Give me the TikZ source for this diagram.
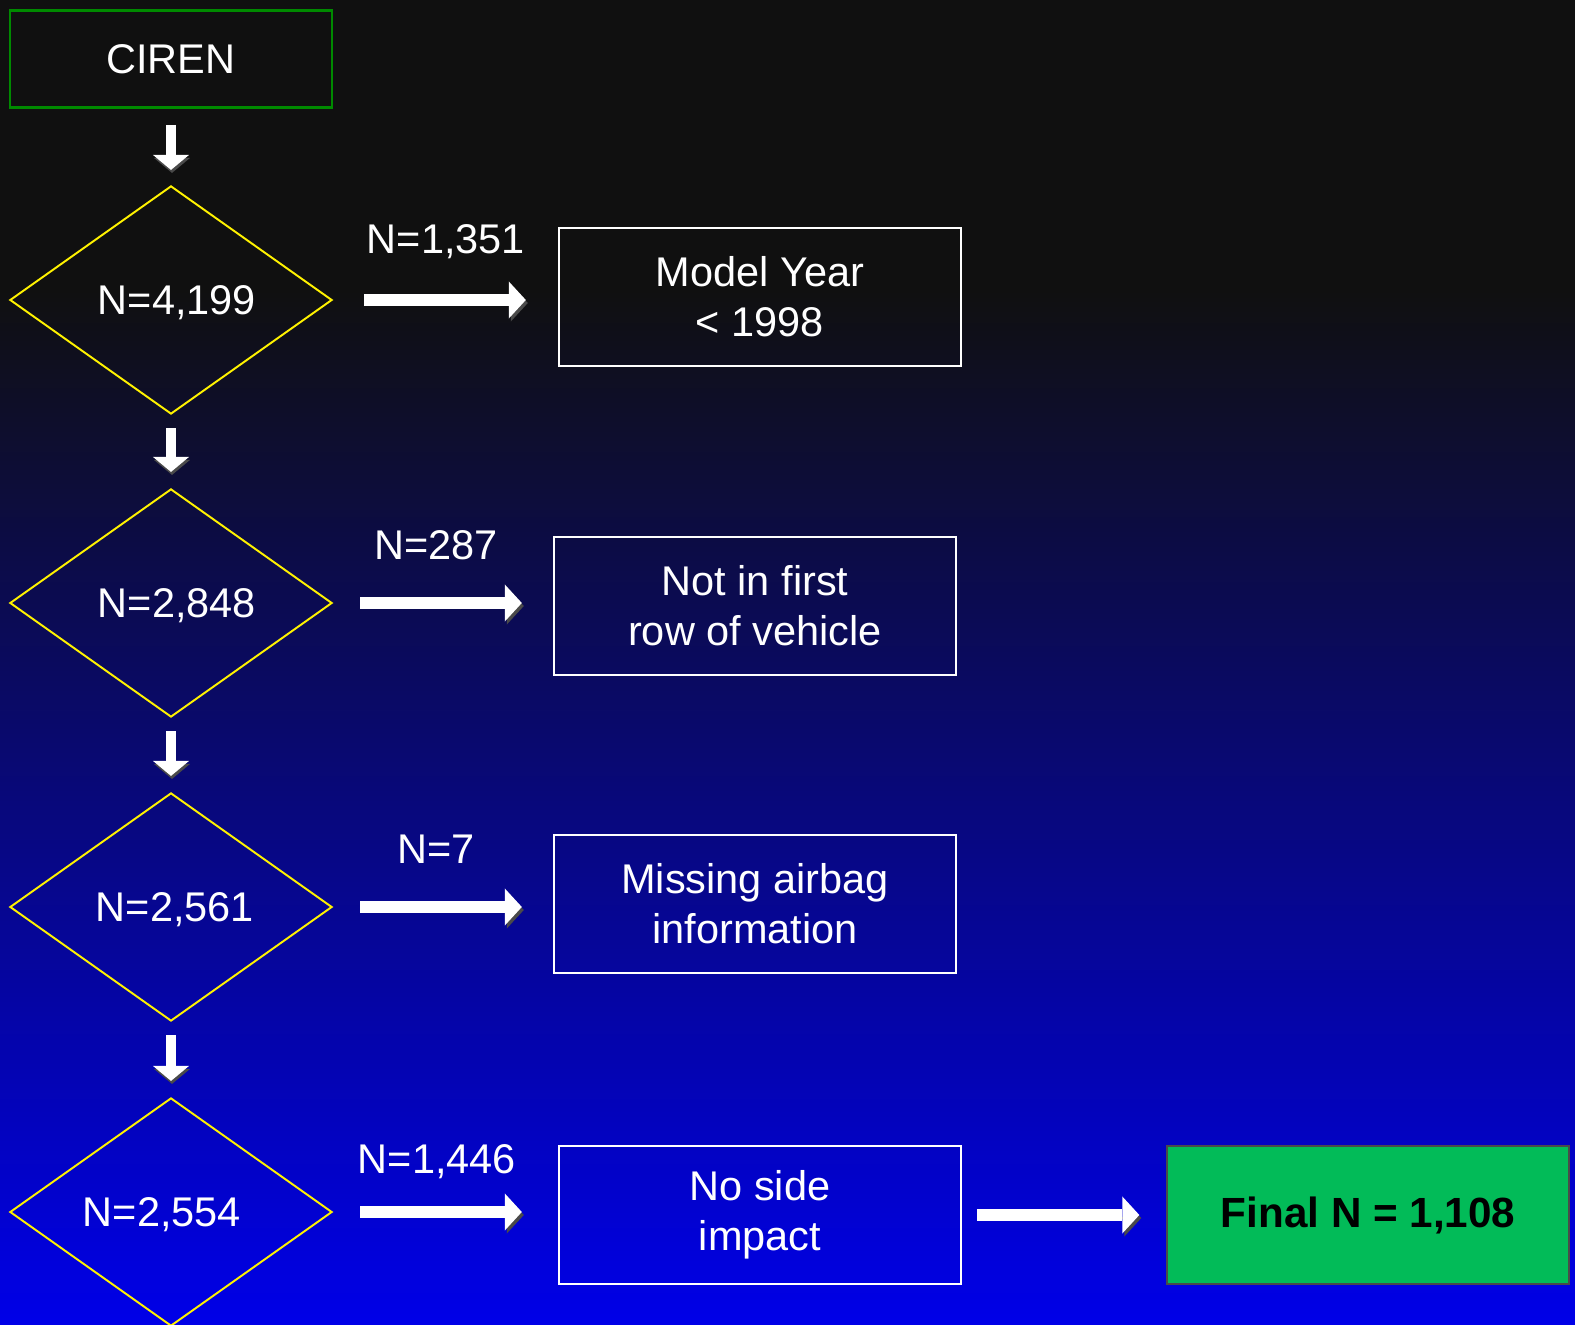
\documentclass[tikz,border=0pt]{standalone}
\usepackage{fontspec}
\setmainfont{Liberation Sans}
\usetikzlibrary{shapes.geometric,arrows.meta,positioning}

\definecolor{bgtop}{HTML}{101010}
\definecolor{bgbot}{HTML}{0000E8}
\definecolor{finalgreen}{HTML}{02BB58}
\definecolor{cirengreen}{HTML}{008A00}
\definecolor{shadowgray}{HTML}{4A4A4A}

\begin{document}
\begin{tikzpicture}[x=0.01cm, y=-0.01cm]
\tikzset{
  txt/.style={text=white, font=\fontsize{11.8pt}{14.2pt}\selectfont, align=center},
  test/.style={diamond, draw=yellow, line width=0.55pt, aspect=1.41, minimum width=3.22cm, minimum height=2.28cm,
    inner sep=0pt, text depth=0pt, txt},
  exclbox/.style={draw=white, line width=0.6pt, minimum width=4.02cm, minimum height=1.38cm, inner sep=0pt, txt},
  fat/.style={white, line width=0.12cm, -{Triangle[width=0.37cm, length=0.17cm, line width=0pt]},
    preaction={draw=shadowgray, transform canvas={xshift=0.02cm, yshift=-0.03cm}}},
  fatdown/.style={white, line width=0.09cm, -{Triangle[width=0.36cm, length=0.15cm, line width=0pt]},
    preaction={draw=shadowgray, transform canvas={xshift=0.01cm, yshift=-0.03cm}}},
}

% background
\useasboundingbox (0,0) rectangle (1575,1325);
\fill [bgtop] (0,0) rectangle (1575,291);
\shade [top color=bgtop, bottom color=bgbot] (0,290) rectangle (1575,1325);

% start
\node [draw=cirengreen, line width=0.7pt, minimum width=3.22cm, minimum height=0.97cm, text depth=0pt, txt] (ciren) at (171,59) {CIREN};

% tests
\node [test] (d1) at (171,300)  {\hspace*{0.12cm}N=4,199};
\node [test] (d2) at (171,603)  {\hspace*{0.12cm}N=2,848};
\node [test] (d3) at (171,907)  {\hspace*{0.08cm}N=2,561};
\node [test] (d4) at (171,1212) {N=2,554\hspace*{0.18cm}};

% exclusions
\node [exclbox] (b1) at (760,297)  {Model Year\\< 1998};
\node [exclbox] (b2) at (755,606)  {Not in first\\row of vehicle};
\node [exclbox] (b3) at (755,904)  {Missing airbag\\information};
\node [exclbox] (b4) at (760,1215) {No side\\impact};

\node [fill=finalgreen, draw=shadowgray, line width=0.6pt, minimum width=4.01cm, minimum height=1.38cm,
       text=black, font=\bfseries\fontsize{12pt}{14pt}\selectfont] (fin) at (1368,1215) {Final N = 1,108};

% counts
\node [txt] (n1) at (446,242)  {N=1,351};
\node [txt] (n2) at (436,545)  {N=287};
\node [txt] (n3) at (436,849)  {N=7};
\node [txt] (n4) at (437,1162) {N=1,446};

% down arrows
\draw [fatdown, shorten <=0.16cm, shorten >=0.15cm] (ciren) -- (d1);
\draw [fatdown, shorten <=0.13cm, shorten >=0.16cm] (d1) -- (d2);
\draw [fatdown, shorten <=0.13cm, shorten >=0.16cm] (d2) -- (d3);
\draw [fatdown, shorten <=0.13cm, shorten >=0.16cm] (d3) -- (d4);

% side arrows
\draw [fat, shorten <=0.31cm, shorten >=0.32cm] (d1.east) -- (d1.east -| b1.west);
\draw [fat, shorten <=0.27cm, shorten >=0.31cm] (d2.east) -- (d2.east -| b2.west);
\draw [fat, shorten <=0.27cm, shorten >=0.31cm] (d3.east) -- (d3.east -| b3.west);
\draw [fat, shorten <=0.27cm, shorten >=0.36cm] (d4.east) -- (d4.east -| b4.west);
\draw [fat, shorten <=0.15cm, shorten >=0.27cm] (b4) -- (fin);

\end{tikzpicture}
\end{document}
